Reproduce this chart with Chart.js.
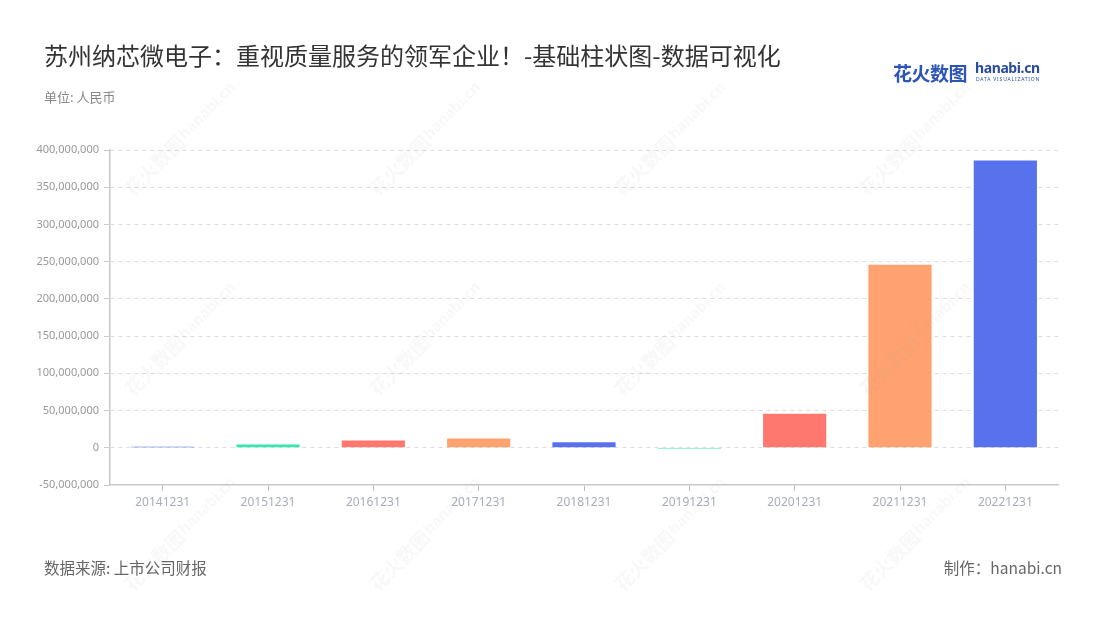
<!DOCTYPE html>
<html>
<head>
<meta charset="utf-8">
<script src="https://cdn.jsdelivr.net/npm/chart.js@4"></script>
<style>
    body { margin: 0; background: #fff; font-family: "Noto Sans CJK SC", "Noto Sans", sans-serif; }
    #wrap { position: relative; width: 1100px; height: 620px; }
    #chart { position: absolute; left: 0; top: 0; }
    .txt { position: absolute; white-space: nowrap; }
    #title { left: 44px; top: 37px; font-size: 24px; color: #333; }
    #unit { left: 44px; top: 87px; font-size: 13px; color: #888; }
    #source { left: 44px; top: 556px; font-size: 15.5px; color: #666; }
    #maker { right: 38px; top: 556px; font-size: 15.5px; color: #666; }
    #logo { left: 0; top: 0; }
    #logo .cn { position: absolute; left: 893px; top: 59px; font-size: 19px; font-weight: bold; color: #2d55b8; letter-spacing: -0.5px; }
    #logo .en { position: absolute; left: 975px; top: 58px; font-family: "Noto Sans", sans-serif; font-size: 14px; font-weight: bold; color: #2a4a9e; letter-spacing: -0.4px; }
    #logo .sub { position: absolute; left: 976px; top: 76px; font-family: "Noto Sans", sans-serif; font-size: 5px; color: #2a4a9e; letter-spacing: 0.8px; }
</style>
</head>
<body>
<div id="wrap">
    <canvas id="chart" width="1100" height="620"></canvas>
    <div class="txt" id="title">苏州纳芯微电子：重视质量服务的领军企业！-基础柱状图-数据可视化</div>
    <div class="txt" id="unit">单位: 人民币</div>
    <div class="txt" id="logo"><span class="cn">花火数图</span><span class="en">hanabi.cn</span><span class="sub">DATA VISUALIZATION</span></div>
    <div class="txt" id="source">数据来源: 上市公司财报</div>
    <div class="txt" id="maker">制作：hanabi.cn</div>
</div>
<script>
// data
dates = ["20141231", "20151231", "20161231", "20171231", "20181231", "20191231", "20201231", "20211231", "20221231"];
values = [500000, 4300000, 9800000, 12500000, 7300000, -1000000, 45600000, 246000000, 385800000];
palette = ["#5872ee", "#34e6b2", "#ff7870", "#ffa26f"];
yTicks = [-50000000, 0, 50000000, 100000000, 150000000, 200000000, 250000000, 300000000, 350000000, 400000000];

// faint diagonal watermark, repeated over the page
const watermark = {
    id: "watermark",
    afterDraw(chart) {
        const c = chart.ctx;
        const cols = [180, 425, 670, 915];
        const rows = [140, 340, 535];
        c.save();
        c.fillStyle = "rgba(150,150,150,0.07)";
        c.textAlign = "center";
        c.textBaseline = "middle";
        rows.forEach((y) => {
            cols.forEach((x) => {
                c.save();
                c.translate(x, y);
                c.rotate(-Math.PI / 4);
                c.font = "bold 19px 'Noto Sans CJK SC'";
                c.fillText("花火数图", -36, 0);
                c.font = "bold 15px 'Noto Sans'";
                c.fillText("hanabi.cn", 40, -1);
                c.restore();
            });
        });
        c.restore();
    },
};

let config = {
    type: "bar",
    data: {
        labels: dates,
        datasets: [
            {
                data: values,
                backgroundColor: values.map((v, i) => palette[i % palette.length]),
                borderWidth: 0,
                categoryPercentage: 1,
                barPercentage: 0.6,
                minBarLength: 1,
            },
        ],
    },
    plugins: [watermark],
    options: {
        responsive: false,
        animation: false,
        layout: {
            padding: { left: 0, top: 150, right: 42, bottom: 100 },
        },
        plugins: {
            legend: { display: false },
            tooltip: { enabled: false },
        },
        scales: {
            x: {
                afterFit: (s) => { s.height = 35; },
                grid: {
                    drawOnChartArea: false,
                    drawTicks: true,
                    tickLength: 6,
                    tickColor: "#bbb",
                    offset: false,
                },
                border: { display: true, color: "#c8c8c8", width: 1.5 },
                ticks: {
                    color: "#a8adbb",
                    font: { family: "Noto Sans", size: 12 },
                    padding: 4,
                    maxRotation: 0,
                },
            },
            y: {
                min: -50000000,
                max: 400000000,
                afterFit: (s) => { s.width = 110; },
                afterBuildTicks: (s) => { s.ticks = yTicks.map((v) => ({ value: v })); },
                grid: {
                    color: (ctx) => (ctx.tick && ctx.tick.value === -50000000 ? "rgba(0,0,0,0)" : "#dcdcdc"),
                    tickColor: "#c8c8c8",
                    tickLength: 6,
                    tickBorderDash: [],
                    lineWidth: 1,
                },
                border: { display: true, color: "#c8c8c8", width: 1.5, dash: [4, 4] },
                ticks: {
                    color: "#999",
                    font: { family: "Noto Sans", size: 11 },
                    padding: 5,
                    callback: (v) => Number(v).toLocaleString("en-US"),
                },
            },
        },
    },
};

const barChart = new Chart(document.getElementById("chart"), config);
</script>
</body>
</html>
